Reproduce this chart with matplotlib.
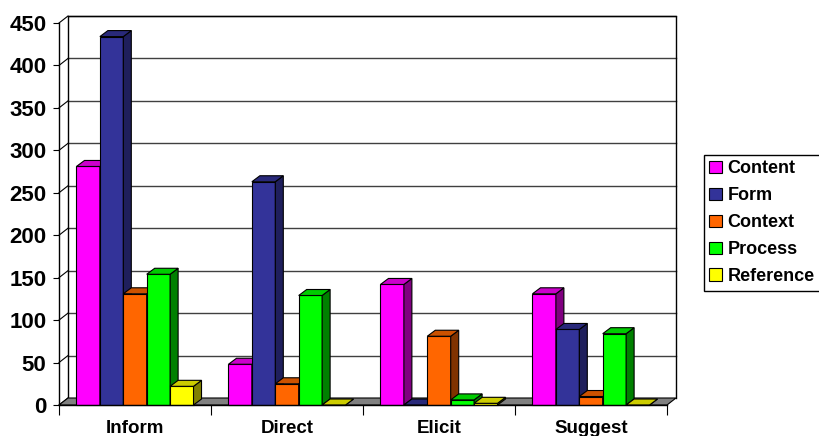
import matplotlib
matplotlib.use("Agg")
import matplotlib.pyplot as plt
from matplotlib.patches import Polygon, Rectangle, Patch
import numpy as np

categories = ["Inform", "Direct", "Elicit", "Suggest"]
series = ["Content", "Form", "Context", "Process", "Reference"]
content = [281, 48, 142, 131]
form = [434, 263, 0, 89]
context = [131, 25, 81, 10]
process = [154, 129, 6, 84]
reference = [22, 0, 2, 0]
values = [content, form, context, process, reference]
yticks = list(range(0, 451, 50))

front_colors = ["#FF00FF", "#333399", "#FF6600", "#00FF00", "#FFFF00"]
top_colors = ["#CC00CC", "#29297A", "#CC5200", "#00CC00", "#CCCC00"]
side_colors = ["#800080", "#1F1F5C", "#803300", "#008000", "#808000"]

plt.rcParams['font.family'] = ['Liberation Sans', 'DejaVu Sans']
plt.rcParams['font.weight'] = 'bold'

W, H = 820, 436
fig = plt.figure(figsize=(W / 100, H / 100), dpi=100)
L, R, B, T = 59, 667, 405, 23
ax = fig.add_axes([L / W, 1 - B / H, (R - L) / W, (B - T) / H])
n = len(categories)
ax.set_xlim(-0.5, n - 0.5)
ax.set_ylim(0, 450)

ux = (n) / (R - L)
uy = 450 / (B - T)
wdx, wdy = 9 * ux, 7 * uy
bdx, bdy = 8 * ux, 6 * uy

x0, x1 = -0.5, n - 0.5
ax.add_patch(Polygon([(x0, 0), (x1, 0), (x1 + wdx, wdy), (x0 + wdx, wdy)],
                     closed=True, facecolor="#808080", edgecolor="black",
                     lw=0.8, clip_on=False, zorder=1))
for t in yticks[1:]:
    ax.plot([x0 + wdx, x1 + wdx], [t + wdy, t + wdy], color="#404040",
            lw=1.0, clip_on=False, zorder=0.5)
for t in yticks:
    ax.plot([x0, x0 + wdx], [t, t + wdy], color="black", lw=0.8,
            clip_on=False, zorder=0.6)
ax.plot([x0 + wdx, x0 + wdx, x1 + wdx, x1 + wdx],
        [wdy, 450 + wdy, 450 + wdy, wdy], color="black", lw=1.0,
        clip_on=False, zorder=0.7)

group_w = 0.77
bw = group_w / len(series)
for ci in range(n):
    for si in range(len(series)):
        v = values[si][ci]
        xl = ci - group_w / 2 + si * bw
        xr = xl + bw
        z = 2 + ci * 10 + si
        ax.add_patch(Rectangle((xl, 0), bw, v, facecolor=front_colors[si],
                               edgecolor="black", lw=0.8, clip_on=False,
                               zorder=z))
        ax.add_patch(Polygon([(xr, 0), (xr, v), (xr + bdx, v + bdy),
                              (xr + bdx, bdy)], closed=True,
                             facecolor=side_colors[si], edgecolor="black",
                             lw=0.8, clip_on=False, zorder=z))
        ax.add_patch(Polygon([(xl, v), (xr, v), (xr + bdx, v + bdy),
                              (xl + bdx, v + bdy)], closed=True,
                             facecolor=top_colors[si], edgecolor="black",
                             lw=0.8, clip_on=False, zorder=z))

for s in ["top", "right"]:
    ax.spines[s].set_visible(False)
ax.spines["left"].set_linewidth(1.0)
ax.spines["bottom"].set_linewidth(1.0)
ax.spines["left"].set_zorder(100)
ax.spines["bottom"].set_zorder(100)
ax.patch.set_visible(False)
ax.set_yticks(yticks)
ax.set_yticklabels([str(t) for t in yticks], fontsize=16, fontweight="bold")
ax.tick_params(axis="y", direction="out", length=4, width=0.8, pad=5)
ax.set_xticks(range(n))
ax.set_xticklabels(categories, fontsize=13.5, fontweight="bold")
ax.set_xticks(np.arange(-0.5, n, 1), minor=True)
ax.tick_params(axis="x", which="major", length=0, pad=11)
ax.tick_params(axis="x", which="minor", direction="out", length=7, width=0.8)

handles = [Patch(facecolor=c, edgecolor="black", lw=0.8) for c in front_colors]
leg = fig.legend(handles, series, loc="upper left",
                 bbox_to_anchor=(704 / W, 1 - 155 / H), frameon=True,
                 fancybox=False, edgecolor="black", framealpha=1,
                 prop={"size": 13, "weight": "bold"}, handlelength=0.7,
                 handleheight=0.7, handletextpad=0.3, labelspacing=0.55,
                 borderpad=0.3, borderaxespad=0)
leg.get_frame().set_linewidth(1.0)

fig.savefig("out.png", dpi=100)
